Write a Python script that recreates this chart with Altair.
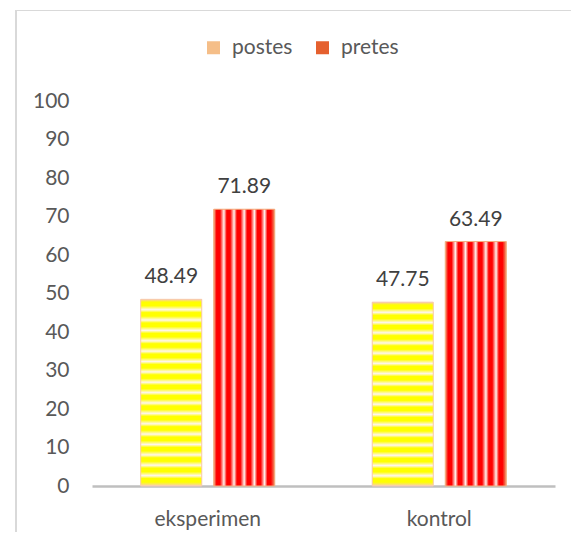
import altair as alt
import pandas as pd

categories = ["eksperimen", "kontrol"]
series = ["postes", "pretes"]
postes = [48.49, 47.75]
pretes = [71.89, 63.49]
y_ticks = list(range(0, 101, 10))

rows = []
for i, c in enumerate(categories):
    rows.append({"kelompok": c, "tes": "postes", "nilai": postes[i]})
    rows.append({"kelompok": c, "tes": "pretes", "nilai": pretes[i]})
df = pd.DataFrame(rows)

FONT = "Lato"
FS = 21
TXT = "#595959"


def make_stops(n, edge0, edge1, gap, band):
    stops = [alt.GradientStop(offset=0, color=edge0)]
    for k in range(n):
        if k > 0:
            stops.append(alt.GradientStop(offset=k / n, color=gap))
        stops.append(alt.GradientStop(offset=(k + 0.28) / n, color=band))
        stops.append(alt.GradientStop(offset=(k + 0.62) / n, color=band))
    stops.append(alt.GradientStop(offset=1, color=edge1))
    return stops


grad_postes = alt.Gradient(
    gradient="linear", x1=0, x2=0, y1=0, y2=1,
    stops=make_stops(18, "#F8CBAD", "#F8D0B8", "#FFF6EE", "#FFFF00"),
)
grad_pretes = alt.Gradient(
    gradient="linear", x1=0, x2=1, y1=0, y2=0,
    stops=make_stops(6, "#F4B183", "#EE9A6A", "#FFF2EC", "#FF0000"),
)

x_enc = alt.X(
    "kelompok:N",
    sort=categories,
    scale=alt.Scale(domain=categories, paddingInner=0.421, paddingOuter=0.2105),
    axis=alt.Axis(
        title=None, labelAngle=0, ticks=False, domainColor="#BFBFBF",
        domainWidth=2.5, labelFont=FONT, labelFontSize=FS, labelColor=TXT,
        labelPadding=22,
    ),
)
xo_enc = alt.XOffset(
    "tes:N", scale=alt.Scale(domain=series, paddingInner=0.164, paddingOuter=0)
)
y_enc = alt.Y(
    "nilai:Q",
    scale=alt.Scale(domain=[0, 100], nice=False),
    axis=alt.Axis(
        title=None, values=y_ticks, grid=False, ticks=False, domain=False,
        labelFont=FONT, labelFontSize=FS, labelColor=TXT, labelPadding=23,
    ),
)

base = alt.Chart(df)

legend_bars = base.mark_bar().encode(
    x=x_enc,
    xOffset=xo_enc,
    y=y_enc,
    color=alt.Color(
        "tes:N",
        scale=alt.Scale(domain=series, range=["#F5BE88", "#E5602E"]),
        legend=alt.Legend(
            title=None, orient="none", direction="horizontal",
            legendX=111, legendY=-64, symbolType="square", symbolSize=169,
            symbolStrokeWidth=0, labelFont=FONT, labelFontSize=FS,
            labelColor=TXT, labelOffset=8, columnPadding=19,
        ),
    ),
)

bars_postes = base.transform_filter(alt.datum.tes == "postes").mark_bar(
    color=grad_postes, stroke="#F8CBAD", strokeWidth=1
).encode(x=x_enc, xOffset=xo_enc, y=y_enc)

bars_pretes = base.transform_filter(alt.datum.tes == "pretes").mark_bar(
    color=grad_pretes, stroke="#F4B183", strokeWidth=1
).encode(x=x_enc, xOffset=xo_enc, y=y_enc)

labels = base.mark_text(
    font=FONT, fontSize=FS, color="#404040", dy=-16, baseline="alphabetic"
).encode(x=x_enc, xOffset=xo_enc, y=y_enc, text=alt.Text("nilai:Q", format=".2f"))

one = pd.DataFrame({"a": [0]})
border_top = alt.Chart(one).mark_rule(color="#D9D9D9", strokeWidth=1).encode(
    x=alt.value(-77), x2=alt.value(700), y=alt.value(-90.5)
)
border_left = alt.Chart(one).mark_rule(color="#D9D9D9", strokeWidth=2).encode(
    x=alt.value(-76), y=alt.value(-91), y2=alt.value(600)
)

chart = alt.layer(
    legend_bars, bars_postes, bars_pretes, labels, border_top, border_left
).properties(
    width=463,
    height=385,
    padding={"left": 84, "top": 93, "right": 16, "bottom": 46},
    autosize=alt.AutoSizeParams(type="none"),
).configure(background="white").configure_view(stroke=None)

chart.save("out.html", embed_options={"renderer": "svg", "actions": False})
